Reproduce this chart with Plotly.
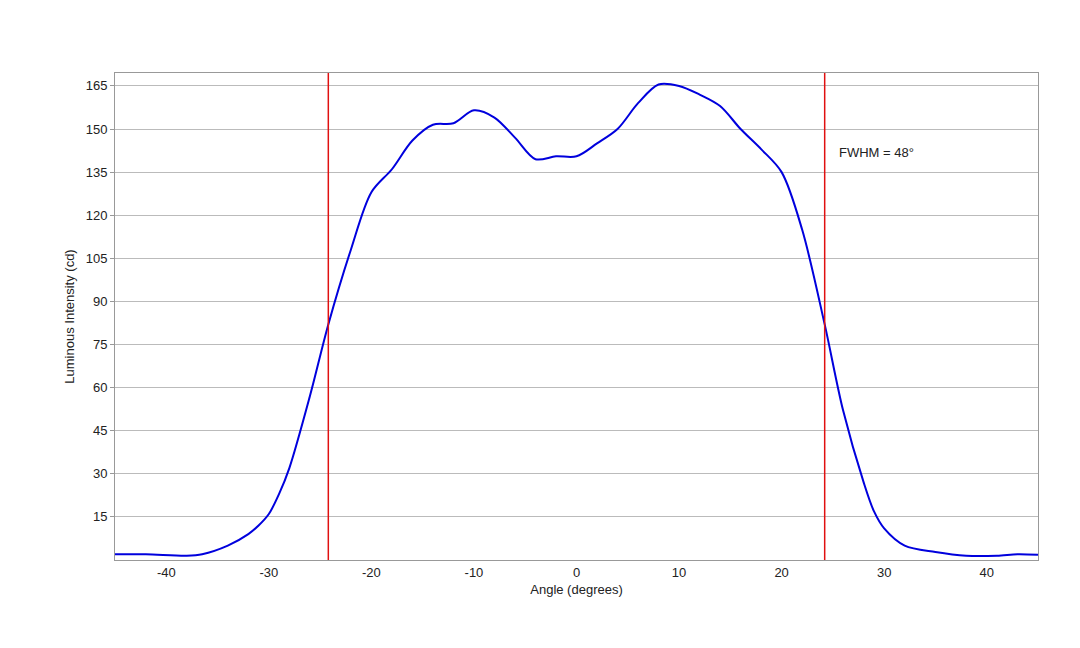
import plotly.graph_objects as go

angle = [-45, -42, -38, -36.5, -34, -32, -31, -30, -29, -28, -26, -24.2, -22, -20, -18, -16, -14, -12,
         -10, -8, -6, -4, -2, 0, 2, 4, 6, 8, 10, 12, 14, 16, 18, 20, 22, 24.2, 26, 28, 29, 30,
         32, 35, 38, 41, 43, 45]
intensity = [2, 2, 1.5, 2, 5, 9, 12, 16, 23, 32, 57, 82, 108, 128, 136, 146, 151.5, 152,
             156.5, 154, 147, 139.5, 140.5, 140.5, 145, 150, 159, 165.5, 165, 162, 158, 150, 143, 135, 115, 82, 52, 27, 17, 11,
             5, 2.8, 1.5, 1.5, 2, 1.8]
fwhm_edges = [-24.2, 24.2]
fwhm_label = "FWHM = 48°"
x_ticks = [-40, -30, -20, -10, 0, 10, 20, 30, 40]

fig = go.Figure()
fig.add_trace(go.Scatter(x=angle, y=intensity, mode="lines",
                         line=dict(color="#0000dd", width=2, shape="spline", smoothing=0.9),
                         showlegend=False))
for e in fwhm_edges:
    fig.add_vline(x=e, line=dict(color="#e01010", width=1.5))
fig.add_annotation(x=25.4, y=142, text=fwhm_label, showarrow=False, xanchor="left",
                   font=dict(size=13, color="#222"))

fig.update_layout(
    width=1080, height=648, paper_bgcolor="white", plot_bgcolor="white",
    margin=dict(l=107, r=50, t=65, b=96),
    font=dict(family="Liberation Sans, Arial, sans-serif", size=13, color="#222"),
    xaxis=dict(range=[-45, 45], tickvals=x_ticks, ticktext=[str(t) for t in x_ticks],
               title=dict(text="Angle (degrees)", standoff=6, font=dict(size=13)), showgrid=False,
               showline=True, linecolor="#999", linewidth=1, mirror=True, automargin=False,
               ticks="outside", ticklen=0, zeroline=False),
    yaxis=dict(range=[0, 169.5], tickvals=list(range(15, 166, 15)),
               title=dict(text="Luminous Intensity (cd)", standoff=8, font=dict(size=13)),
               showgrid=True, gridcolor="#bbb", gridwidth=1, automargin=False,
               showline=True, linecolor="#999", linewidth=1, mirror=True,
               ticks="outside", ticklen=4, tickcolor="#999", zeroline=False),
)

fig.write_html("out.html")
